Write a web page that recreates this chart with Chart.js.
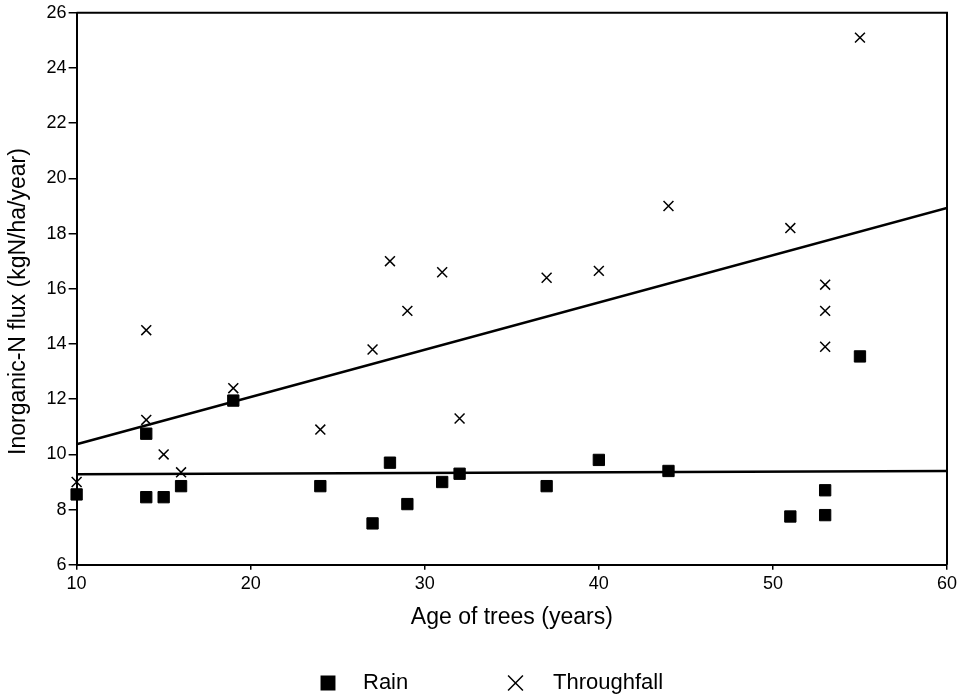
<!DOCTYPE html>
<html><head><meta charset="utf-8">
<script src="https://cdn.jsdelivr.net/npm/chart.js@4"></script>
<style>html,body{margin:0;padding:0;background:#fff}#wrap{width:966px;height:700px}</style>
</head><body><div id="wrap"><canvas id="c" width="966" height="700"></canvas></div>
<script>
// ---- data ----
const rainAge  = [10, 14, 14, 15, 16, 19, 24, 27, 28, 29, 31, 32, 37, 40, 44, 51, 53, 53, 55];
const rainFlux = [8.55, 10.75, 8.45, 8.45, 8.85, 11.95, 8.85, 7.5, 9.7, 8.2, 9.0, 9.3, 8.85, 9.8, 9.4, 7.75, 8.7, 7.8, 13.55];
const tfAge    = [10, 14, 14, 15, 16, 19, 24, 27, 28, 29, 31, 32, 37, 40, 44, 51, 53, 53, 53, 55];
const tfFlux   = [9.0, 14.5, 11.25, 10.0, 9.35, 12.4, 10.9, 13.8, 17.0, 15.2, 16.6, 11.3, 16.4, 16.65, 19.0, 18.2, 16.15, 15.2, 13.9, 25.1];
const fitAge   = [10, 60];
const rainFit  = [9.28, 9.40];
const tfFit    = [10.37, 18.93];
const xTicks   = [10, 20, 30, 40, 50, 60];
const yTicks   = [6, 8, 10, 12, 14, 16, 18, 20, 22, 24, 26];
const seriesNames = ['Rain', 'Throughfall'];
const xTitle = 'Age of trees (years)';
const yTitle = 'Inorganic-N flux (kgN/ha/year)    ';

const FONT = "'Liberation Sans', Arial, Helvetica, sans-serif";
const toXY = (xs, ys) => xs.map((x, i) => ({x: x, y: ys[i]}));

const framePlugin = {
  id: 'frame',
  afterDatasetsDraw(chart) {
    const {ctx, chartArea: a} = chart;
    ctx.save();
    ctx.strokeStyle = '#000';
    ctx.lineWidth = 2;
    ctx.beginPath();
    ctx.moveTo(a.left, a.top);
    ctx.lineTo(a.right, a.top);
    ctx.lineTo(a.right, a.bottom);
    ctx.stroke();
    ctx.restore();
  }
};

const legendPlugin = {
  id: 'customLegend',
  afterDraw(chart) {
    const ctx = chart.ctx;
    const cy = 683;
    const items = [
      {text: seriesNames[0], style: 'rect', cx: 328, tx: 363, radius: 9.5},
      {text: seriesNames[1], style: 'crossRot', cx: 515.5, tx: 553, radius: 10.5}
    ];
    ctx.save();
    items.forEach(it => {
      ctx.fillStyle = '#000';
      ctx.strokeStyle = '#000';
      ctx.lineWidth = 1.5;
      Chart.helpers.drawPoint(ctx, {pointStyle: it.style, radius: it.radius, rotation: 0, borderWidth: 1.5}, it.cx, cy);
      ctx.font = '22px ' + FONT;
      ctx.textBaseline = 'middle';
      ctx.textAlign = 'left';
      ctx.fillStyle = '#000';
      ctx.fillText(it.text, it.tx, cy);
    });
    ctx.restore();
  }
};

new Chart(document.getElementById('c'), {
  type: 'scatter',
  data: {
    datasets: [
      {label: seriesNames[0], data: toXY(rainAge, rainFlux), pointStyle: 'rect', pointRadius: 8,
       backgroundColor: '#000', borderColor: '#000', borderWidth: 1, clip: false},
      {label: seriesNames[1], data: toXY(tfAge, tfFlux), pointStyle: 'crossRot', pointRadius: 7,
       backgroundColor: '#000', borderColor: '#000', borderWidth: 1.5, clip: false},
      {label: 'rainFit', data: toXY(fitAge, rainFit), showLine: true, pointRadius: 0,
       borderColor: '#000', borderWidth: 2.5, fill: false},
      {label: 'tfFit', data: toXY(fitAge, tfFit), showLine: true, pointRadius: 0,
       borderColor: '#000', borderWidth: 2.5, fill: false}
    ]
  },
  options: {
    responsive: false,
    animation: false,
    devicePixelRatio: 1,
    layout: {padding: {top: 8, right: 19, bottom: 64, left: 0}},
    plugins: {legend: {display: false}, tooltip: {enabled: false}},
    scales: {
      x: {
        type: 'linear', min: 10, max: 60,
        afterBuildTicks: s => { s.ticks = xTicks.map(v => ({value: v})); },
        ticks: {color: '#000', font: {family: FONT, size: 18}, padding: 3, maxRotation: 0},
        grid: {display: true, drawOnChartArea: false, drawTicks: true, tickLength: 5, color: '#000', lineWidth: 1.5},
        border: {display: true, color: '#000', width: 2},
        title: {display: true, text: xTitle, color: '#000', font: {family: FONT, size: 23}, padding: {top: 6, bottom: 5}}
      },
      y: {
        type: 'linear', min: 6, max: 26,
        afterBuildTicks: s => { s.ticks = yTicks.map(v => ({value: v})); },
        ticks: {color: '#000', font: {family: FONT, size: 18}, padding: 2},
        grid: {display: true, drawOnChartArea: false, drawTicks: true, tickLength: 8, color: '#000', lineWidth: 1.5},
        border: {display: true, color: '#000', width: 2},
        title: {display: true, text: yTitle, color: '#000', font: {family: FONT, size: 23}, padding: {top: 5, bottom: 12}}
      }
    }
  },
  plugins: [framePlugin, legendPlugin]
});
</script>
</body></html>
